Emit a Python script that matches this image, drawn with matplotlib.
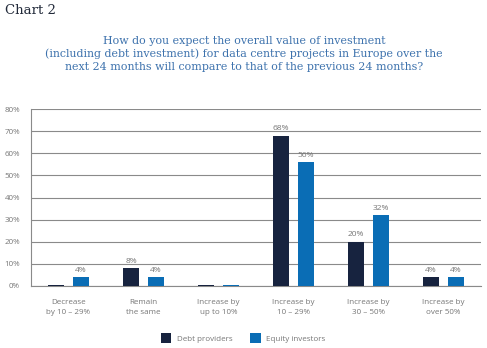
import matplotlib
matplotlib.use("Agg")
from matplotlib import pyplot as plt
import numpy as np

categories = ["Decrease\nby 10 – 29%", "Remain\nthe same", "Increase by\nup to 10%",
              "Increase by\n10 – 29%", "Increase by\n30 – 50%", "Increase by\nover 50%"]
debt = [0.5, 8, 0.5, 68, 20, 4]
equity = [4, 4, 0.5, 56, 32, 4]
debt_labels = ["", "8%", "", "68%", "20%", "4%"]
equity_labels = ["4%", "4%", "", "56%", "32%", "4%"]

plt.rcParams['font.family'] = ['Open Sans', 'DejaVu Sans']

fig = plt.figure(figsize=(4.87, 3.48), dpi=100)
ax = fig.add_axes([31/487, 1 - 286/348, 450/487, 177/348])

x = np.arange(len(categories))
w = 0.22
off = 0.165
navy = "#17233f"
blue = "#0a6db5"
grey = "#777777"

b1 = ax.bar(x - off, debt, w, color=navy, label="Debt providers", zorder=3)
b2 = ax.bar(x + off, equity, w, color=blue, label="Equity investors", zorder=3)

for i in range(len(x)):
    if debt_labels[i]:
        ax.text(x[i] - off, debt[i] + 1.5, debt_labels[i], ha='center', va='bottom', fontsize=6, color=grey)
    if equity_labels[i]:
        ax.text(x[i] + off, equity[i] + 1.5, equity_labels[i], ha='center', va='bottom', fontsize=6, color=grey)

ax.set_xlim(-0.5, 5.5)
ax.set_ylim(0, 80)
ax.set_yticks(np.arange(0, 81, 10))
ax.set_yticklabels([f"{v}%" for v in range(0, 81, 10)], fontsize=5.8, color=grey)
ax.set_xticks(x)
ax.set_xticklabels(categories, fontsize=5.8, color=grey, linespacing=1.8)
ax.tick_params(length=0, pad=8)
ax.tick_params(axis='x', pad=9)
ax.grid(axis='y', color='#8a8a8a', linewidth=0.8, zorder=0)
for s in ['top', 'right']:
    ax.spines[s].set_visible(False)
ax.spines['left'].set_color('#8a8a8a')
ax.spines['bottom'].set_color('#8a8a8a')
ax.spines['left'].set_linewidth(0.8)
ax.spines['bottom'].set_linewidth(0.8)

fig.legend(handles=[b1, b2], loc='center', bbox_to_anchor=(243/487, 1 - 338/348), ncol=2,
           frameon=False, fontsize=5.8, labelcolor=grey, handlelength=1.3, handleheight=1.6,
           columnspacing=2.2, handletextpad=0.7)

fig.text(5/487, 1 - 11/348, "Chart 2", fontsize=9.5, color="#222a3a", family=['DejaVu Serif'],
         va='center', ha='left')
fig.text(244/487, 1 - 54/348,
         "How do you expect the overall value of investment\n"
         "(including debt investment) for data centre projects in Europe over the\n"
         "next 24 months will compare to that of the previous 24 months?",
         fontsize=7.9, color="#3d72ad", family=['DejaVu Serif'], ha='center', va='center',
         linespacing=1.38)

fig.savefig("out.png", dpi=100)
